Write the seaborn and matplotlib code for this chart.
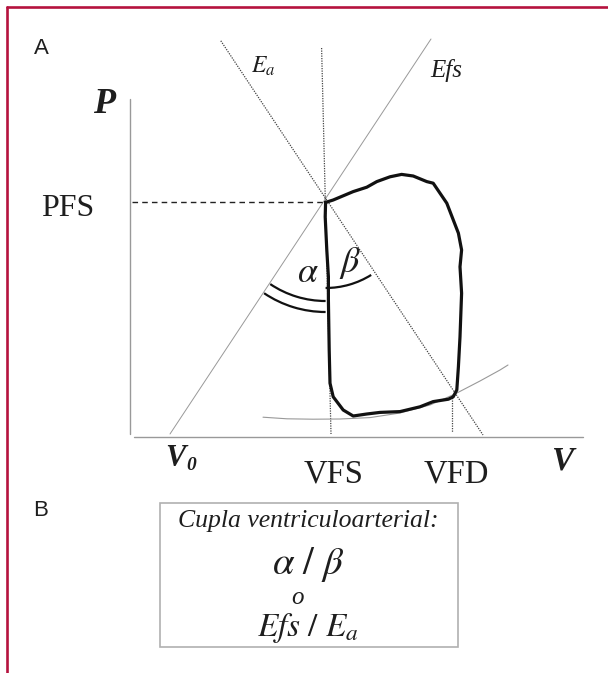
import numpy as np
import pandas as pd
import matplotlib
matplotlib.use("Agg")
import matplotlib.pyplot as plt
from matplotlib.patches import Arc, Rectangle
import seaborn as sns

# pressure-volume loop (V, P), arbitrary units
loop_v = [48.9, 50.8, 55.8, 59.2, 61.7, 65.0, 67.9, 70.8, 74.2, 75.8, 79.2, 82.1,
          82.9, 82.5, 82.9, 82.5, 82.1, 81.7, 80.8, 79.6, 75.8, 72.5, 67.5, 62.5,
          59.2, 55.8, 53.3, 50.8, 50.0, 49.8, 49.6, 49.6, 49.2, 48.8, 48.9]
loop_p = [58.4, 59.0, 61.1, 62.2, 63.6, 64.8, 65.4, 65.0, 63.6, 63.2, 58.2, 50.7,
          46.5, 42.3, 35.7, 24.8, 17.3, 11.5, 9.8, 9.2, 8.6, 7.3, 6.1, 5.9,
          5.5, 5.0, 6.5, 9.8, 13.2, 21.5, 34.0, 39.8, 46.5, 54.8, 58.4]

# end-diastolic pressure-volume relation
edpvr_v = [33.25, 39.25, 45.75, 52.5, 60.0, 67.5, 75.0, 81.25, 87.5, 92.5, 94.5]
edpvr_p = [4.7, 4.3, 4.2, 4.25, 4.6, 5.75, 7.75, 10.5, 13.75, 16.5, 17.75]

# elastance lines (end points)
efs_v = [10.0, 75.25]
efs_p = [0.5, 99.25]
ea_v = [22.7, 88.25]
ea_p = [98.8, 0.25]

# key points
esp_v, esp_p = 48.9, 58.5      # VFS, PFS
vfs_line_v = [47.9, 50.25]
vfs_line_p = [97.0, 0.5]
vfd_v = [80.5, 80.5]
vfd_p = [10.2, 1.0]

sns.set_theme(style="white")
plt.rcParams["font.family"] = ["Liberation Serif", "DejaVu Serif"]
plt.rcParams["mathtext.fontset"] = "stix"

fig = plt.figure(figsize=(6.08, 6.73), dpi=100)
ax = fig.add_axes([0, 0, 1, 1])
ax.set_xlim(-32.5, 119.5)
ax.set_ylim(-59.25, 109)
ax.axis("off")

ink = "#1e1e1e"

# red frame
red = "#b5123e"
ax.plot([-30.75, 119.5], [107.25, 107.25], color=red, lw=1.9, clip_on=False)
ax.plot([-30.75, -30.75], [107.25, -59.25], color=red, lw=1.9, clip_on=False)

# axes
ax.plot([0, 0], [0.5, 84.25], color="#999999", lw=1.0)
ax.plot([1, 113.25], [-0.25, -0.25], color="#999999", lw=1.0)

sns.lineplot(x=efs_v, y=efs_p, ax=ax, color="#999999", lw=0.7, sort=False, estimator=None)
sns.lineplot(x=ea_v, y=ea_p, ax=ax, color="#444444", lw=0.9, sort=False, estimator=None,
             linestyle=(0, (1, 1)))
sns.lineplot(x=vfs_line_v, y=vfs_line_p, ax=ax, color="#444444", lw=0.9, sort=False,
             estimator=None, linestyle=(0, (1, 1)))
sns.lineplot(x=vfd_v, y=vfd_p, ax=ax, color="#444444", lw=0.9, sort=False,
             estimator=None, linestyle=(0, (1, 1)))
sns.lineplot(x=[0.5, esp_v], y=[esp_p, esp_p], ax=ax, color="#222222", lw=1.0,
             sort=False, estimator=None, linestyle=(0, (4, 3)))
sns.lineplot(x=edpvr_v, y=edpvr_p, ax=ax, color="#999999", lw=0.8, sort=False, estimator=None)
sns.lineplot(x=loop_v, y=loop_p, ax=ax, color="#111111", lw=2.3, sort=False, estimator=None)

# angle arcs
ax.add_patch(Arc((esp_v, esp_p), 2 * 21.5, 2 * 21.5, theta1=-90, theta2=-58, color="#111111", lw=1.6))
ax.add_patch(Arc((esp_v, esp_p), 2 * 24.75, 2 * 24.75, theta1=236, theta2=270, color="#111111", lw=1.6))
ax.add_patch(Arc((esp_v, esp_p), 2 * 27.5, 2 * 27.5, theta1=236, theta2=270, color="#111111", lw=1.6))

# labels
sans = "Liberation Sans"
ax.text(-22.25, 97.0, "A", family=sans, fontsize=16, ha="center", va="center", color=ink)
ax.text(-22.25, -18.75, "B", family=sans, fontsize=16, ha="center", va="center", color=ink)
ax.text(-6.5, 82.9, "P", fontsize=26, weight="bold", style="italic", ha="center", va="center", color=ink)
ax.text(-15.5, 56.75, "PFS", fontsize=23, ha="center", va="center", color=ink)
ax.text(33.25, 92.5, r"$E_a$", fontsize=17, ha="center", va="center", color=ink)
ax.text(79.0, 91.5, "Efs", fontsize=18, style="italic", ha="center", va="center", color=ink)
ax.text(44.5, 40.75, r"$\alpha$", fontsize=26, ha="center", va="center", color=ink)
ax.text(55.0, 43.25, r"$\beta$", fontsize=26, ha="center", va="center", color=ink)
ax.text(11.25, -5.5, "V", fontsize=22, weight="bold", style="italic", ha="center", va="center", color=ink)
ax.text(15.25, -7.25, "0", fontsize=14, weight="bold", style="italic", ha="center", va="center", color=ink)
ax.text(50.9, -9.5, "VFS", fontsize=23.5, ha="center", va="center", color=ink)
ax.text(81.5, -9.5, "VFD", fontsize=23.5, ha="center", va="center", color=ink)
ax.text(108.0, -6.25, "V", fontsize=24, weight="bold", style="italic", ha="center", va="center", color=ink)

# box B
ax.add_patch(Rectangle((7.5, -52.75), 74.5, 36.0, fill=False, edgecolor="#b0b0b0", lw=1.2))
ax.text(44.5, -21.25, "Cupla ventriculoarterial:", fontsize=18.5, style="italic", ha="center", va="center", color=ink)
ax.text(44.5, -32.0, r"$\alpha\ /\ \beta$", fontsize=28, ha="center", va="center", color=ink)
ax.text(42.0, -40.5, "o", fontsize=18, style="italic", ha="center", va="center", color=ink)
ax.text(44.5, -48.0, r"$Efs\ /\ E_a$", fontsize=24, ha="center", va="center", color=ink)

fig.savefig("out.png", dpi=100)
